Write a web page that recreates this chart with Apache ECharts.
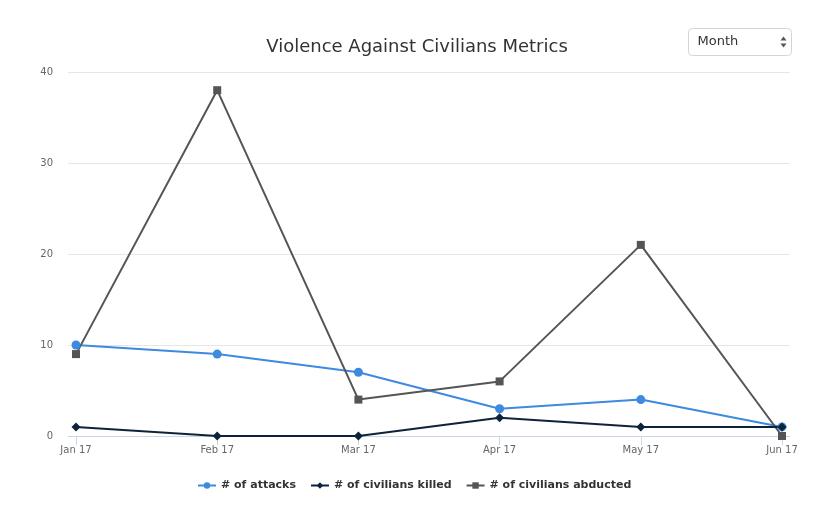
<!DOCTYPE html>
<html>
<head>
<meta charset="utf-8">
<script src="https://cdn.jsdelivr.net/npm/echarts@6/dist/echarts.min.js"></script>
<style>
  html, body { margin: 0; padding: 0; background: #fff; }
  #chart { width: 814px; height: 507px; }
</style>
</head>
<body>
<div id="chart"></div>
<script>
// Monthly violence-against-civilians figures
const months = ['Jan 17', 'Feb 17', 'Mar 17', 'Apr 17', 'May 17', 'Jun 17'];
const attacks = [10, 9, 7, 3, 4, 1];
const civiliansKilled = [1, 0, 0, 2, 1, 1];
const civiliansAbducted = [9, 38, 4, 6, 21, 0];
const yTicks = [0, 10, 20, 30, 40];

const FONT = '"Lucida Grande", "DejaVu Sans", "Open Sans", sans-serif';
const Y_MIN = yTicks[0];
const Y_MAX = yTicks[yTicks.length - 1];

const chart = echarts.init(document.getElementById('chart'), null, { renderer: 'canvas' });

function lineSeries(name, data, color, symbol, size) {
  return {
    name: name,
    type: 'line',
    xAxisIndex: 1,
    yAxisIndex: 1,
    data: data,
    symbol: symbol,
    symbolSize: size,
    showAllSymbol: true,
    lineStyle: { width: 2, color: color },
    itemStyle: { color: color },
    emphasis: { disabled: true }
  };
}

chart.setOption({
  animation: false,
  title: {
    text: 'Violence Against Civilians Metrics',
    left: 412,
    top: 33,
    textAlign: 'center',
    textStyle: { fontFamily: FONT, fontSize: 18, fontWeight: 'normal', color: '#333' }
  },
  legend: {
    top: 475,
    left: 192,
    itemGap: 14,
    itemWidth: 18,
    itemHeight: 8,
    textStyle: { fontFamily: FONT, fontSize: 11, fontWeight: 'bold', color: '#333' },
    data: ['# of attacks', '# of civilians killed', '# of civilians abducted']
  },
  // grid 0: full-width plot frame (gridlines, y labels, baseline)
  // grid 1: category positions inset a little from the frame edges
  grid: [
    { left: 68, right: 24, top: 72, bottom: 71 },
    { left: 76, right: 32, top: 72, bottom: 71 }
  ],
  xAxis: [
    {
      gridIndex: 0,
      type: 'value',
      min: 0,
      max: 1,
      axisLine: { show: true, onZero: false, lineStyle: { color: '#ccd6eb' } },
      axisTick: { show: false },
      axisLabel: { show: false },
      splitLine: { show: false }
    },
    {
      gridIndex: 1,
      type: 'category',
      data: months,
      boundaryGap: false,
      axisLine: { show: false },
      axisTick: { show: true, length: 9, lineStyle: { color: '#ccd6eb' } },
      axisLabel: { fontFamily: FONT, fontSize: 10, color: '#666', margin: 9 }
    }
  ],
  yAxis: [
    {
      gridIndex: 0,
      type: 'value',
      min: Y_MIN,
      max: Y_MAX,
      interval: 10,
      axisLine: { show: false },
      axisTick: { show: false },
      axisLabel: { fontFamily: FONT, fontSize: 10, color: '#666', margin: 15 },
      splitLine: { lineStyle: { color: '#e6e6e6' } }
    },
    {
      gridIndex: 1,
      type: 'value',
      min: Y_MIN,
      max: Y_MAX,
      interval: 10,
      show: false,
      splitLine: { show: false }
    }
  ],
  series: [
    lineSeries('# of attacks', attacks, '#3d8ae0', 'circle', 9),
    lineSeries('# of civilians abducted', civiliansAbducted, '#555555', 'rect', 8),
    lineSeries('# of civilians killed', civiliansKilled, '#0d233a', 'diamond', 9)
  ],
  graphic: [
    {
      type: 'group',
      left: 688,
      top: 28,
      children: [
        {
          type: 'rect',
          shape: { x: 0, y: 0, width: 103, height: 27, r: 4 },
          style: { fill: '#fff', stroke: '#d4d4d4', lineWidth: 1 }
        },
        {
          type: 'text',
          x: 9,
          y: 7,
          style: { text: 'Month', fontFamily: FONT, fontSize: 13, fill: '#333' }
        },
        {
          type: 'polygon',
          shape: { points: [[92, 12], [95, 8], [98, 12]] },
          style: { fill: '#555' }
        },
        {
          type: 'polygon',
          shape: { points: [[92, 15], [95, 19], [98, 15]] },
          style: { fill: '#555' }
        }
      ]
    }
  ]
});
</script>
</body>
</html>
